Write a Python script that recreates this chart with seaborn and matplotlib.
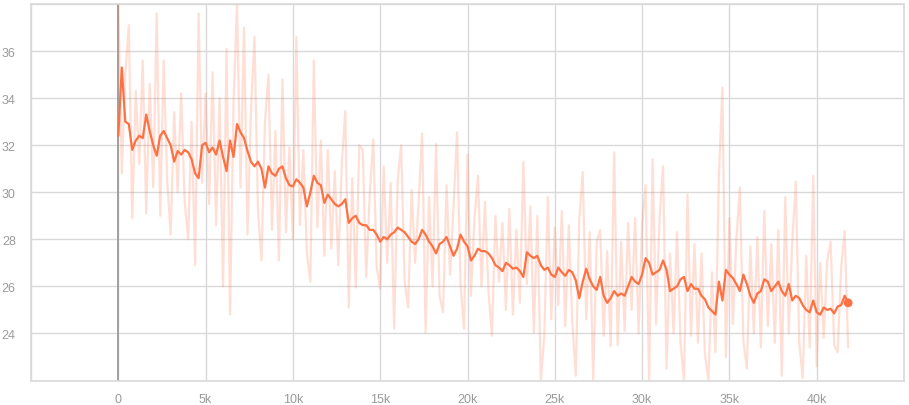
import matplotlib
matplotlib.use("Agg")
import matplotlib.pyplot as plt
from matplotlib.ticker import FuncFormatter
import seaborn as sns
import pandas as pd

# training steps, one point every 200 steps
steps = list(range(0, 41801, 200))

# raw (unsmoothed) scalar values
raw = [
    37.9, 30.8, 35.0, 37.1, 28.9, 34.3, 31.2, 35.6, 29.1, 34.6,
    30.2, 37.6, 29.0, 35.6, 30.5, 28.2, 33.4, 30.0, 34.2, 29.6,
    28.0, 33.0, 26.9, 37.6, 30.4, 34.2, 29.5, 35.1, 28.6, 34.0,
    26.0, 36.1, 24.8, 33.8, 38.0, 30.2, 37.0, 28.2, 33.5, 36.6,
    29.2, 27.1, 33.0, 35.0, 28.4, 32.6, 27.1, 34.8, 28.3, 31.9,
    28.0, 36.6, 28.6, 31.8, 27.4, 26.2, 35.6, 28.5, 32.2, 27.3,
    31.8, 27.6, 30.9, 26.9, 31.2, 33.45, 25.1, 30.6, 25.95, 32.0,
    31.8, 26.4, 29.9, 32.25, 26.8, 25.9, 31.1, 27.0, 30.4, 24.2,
    30.5, 32.0, 26.2, 25.1, 30.1, 27.0, 29.6, 32.5, 24.05, 29.8,
    26.0, 32.05, 25.6, 24.9, 30.3, 26.5, 29.4, 32.55, 26.1, 24.2,
    31.6, 25.6, 28.9, 30.7, 26.0, 29.6, 25.8, 23.9, 29.0, 26.2,
    28.7, 25.0, 29.3, 24.8, 28.4, 25.3, 31.3, 26.1, 29.4, 24.05,
    29.0, 22.0, 23.9, 29.8, 24.6, 28.5, 25.2, 29.2, 24.3, 28.6,
    24.5, 22.2, 28.8, 30.85, 24.6, 28.3, 22.0, 27.9, 28.4, 23.9,
    27.5, 23.45, 31.7, 23.5, 27.9, 24.1, 28.7, 25.0, 28.9, 24.0,
    28.6, 30.3, 22.0, 31.4, 24.4, 28.9, 31.1, 22.5, 27.4, 24.0,
    28.3, 23.6, 22.0, 29.9, 23.9, 27.8, 23.6, 27.4, 23.1, 22.0,
    26.6, 23.2, 30.7, 34.45, 23.0, 28.9, 24.4, 28.0, 30.2, 23.7,
    22.5, 27.7, 24.0, 28.1, 23.4, 29.2, 24.3, 27.8, 23.6, 28.4,
    22.2, 29.8, 24.0, 27.9, 30.45, 23.6, 22.1, 27.3, 23.4, 30.7,
    22.6, 27.0, 23.8, 27.1, 27.9, 23.5, 23.2, 26.8, 28.35, 23.4,
]

# smoothed curve as shown in the picture
smoothed = [
    32.4, 35.3, 33.0, 32.9, 31.8, 32.2, 32.4, 32.3, 33.3, 32.6,
    32.0, 31.55, 32.4, 32.6, 32.3, 32.0, 31.3, 31.75, 31.6, 31.8,
    31.7, 31.4, 30.8, 30.6, 32.0, 32.1, 31.7, 31.9, 31.6, 32.2,
    31.5, 30.9, 32.2, 31.5, 32.9, 32.55, 32.3, 31.75, 31.3, 31.1,
    31.3, 31.0, 30.2, 31.1, 30.8, 30.7, 31.0, 31.1, 30.6, 30.3,
    30.25, 30.55, 30.4, 30.2, 29.4, 30.0, 30.7, 30.4, 30.3, 29.55,
    29.9, 29.7, 29.5, 29.4, 29.5, 29.7, 28.7, 28.9, 29.0, 28.7,
    28.6, 28.6, 28.4, 28.4, 28.2, 27.9, 28.1, 28.0, 28.2, 28.3,
    28.5, 28.4, 28.3, 28.1, 27.9, 27.8, 28.0, 28.4, 28.2, 27.9,
    27.7, 27.4, 27.8, 27.9, 28.1, 27.7, 27.3, 27.6, 28.2, 27.9,
    27.7, 27.1, 27.3, 27.6, 27.5, 27.5, 27.4, 27.2, 26.9, 26.8,
    26.65, 27.0, 26.9, 26.75, 26.8, 26.65, 26.4, 27.45, 27.3, 27.2,
    27.3, 26.9, 26.7, 26.8, 26.5, 26.4, 26.8, 26.6, 26.45, 26.7,
    26.6, 26.25, 25.5, 26.2, 26.75, 26.3, 26.0, 25.85, 26.4, 25.6,
    25.3, 25.5, 25.8, 25.6, 25.7, 25.6, 26.0, 26.4, 26.2, 26.1,
    26.5, 27.2, 27.0, 26.5, 26.6, 26.7, 27.1, 26.7, 25.8, 25.9,
    26.0, 26.3, 26.4, 25.8, 26.1, 25.9, 25.9, 25.6, 25.45, 25.1,
    24.95, 24.8, 26.2, 25.4, 26.7, 26.5, 26.35, 26.1, 25.8, 26.5,
    26.1, 25.6, 25.3, 25.7, 25.8, 26.3, 26.2, 25.8, 26.0, 26.2,
    25.8, 25.6, 26.1, 25.4, 25.6, 25.5, 25.2, 25.0, 24.9, 25.4,
    24.9, 24.8, 25.1, 25.0, 25.05, 24.85, 25.15, 25.2, 25.6, 25.3,
]

x_ticks = [-5000, 0, 5000, 10000, 15000, 20000, 25000, 30000, 35000, 40000, 45000]
y_ticks = [22, 24, 26, 28, 30, 32, 34, 36, 38]

df = pd.DataFrame({"step": steps, "raw": raw, "smoothed": smoothed})

sns.set_theme(style="white")
plt.rcParams["font.family"] = ["Liberation Sans", "DejaVu Sans"]

orange = "#ff7043"
grid_c = "#d9d9d9"

fig = plt.figure(figsize=(9.09, 4.06), dpi=100)
ax = fig.add_axes([31 / 909, 1 - 381.5 / 406, 873 / 909, 376.5 / 406])

sns.lineplot(data=df, x="step", y="raw", color=orange, alpha=0.22, lw=1.6, ax=ax)
sns.lineplot(data=df, x="step", y="smoothed", color=orange, lw=1.6, ax=ax)
sns.scatterplot(data=df.tail(1), x="step", y="smoothed", color=orange,
                s=40, edgecolor="none", zorder=5, ax=ax)

ax.axvline(0, color="#9a9a9a", lw=1.3, zorder=1)

ax.set_xlim(-5000, 45000)
ax.set_ylim(22, 38)
ax.set_xticks(x_ticks)
ax.set_yticks(y_ticks)


def fmt_x(v, pos):
    if v < 0 or v > 40000:
        return ""
    return "0" if v == 0 else f"{int(v / 1000)}k"


def fmt_y(v, pos):
    if v in (22, 38):
        return ""
    return f"{int(v)}"


ax.xaxis.set_major_formatter(FuncFormatter(fmt_x))
ax.yaxis.set_major_formatter(FuncFormatter(fmt_y))
ax.grid(True, color=grid_c, lw=1.0)
ax.set_axisbelow(True)
ax.tick_params(axis="both", length=5, width=1.0, color=grid_c,
               labelcolor="#9a9a9a", labelsize=9, pad=4)
ax.tick_params(axis="y", pad=6)
for s in ax.spines.values():
    s.set_color(grid_c)
    s.set_linewidth(1.2)
ax.set_xlabel("")
ax.set_ylabel("")

fig.savefig("out.png", dpi=100)
